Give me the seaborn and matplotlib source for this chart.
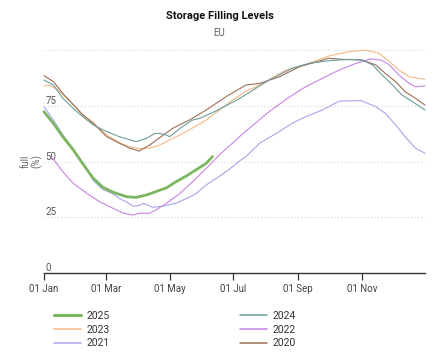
import matplotlib
matplotlib.use("Agg")
import matplotlib.pyplot as plt
from matplotlib.lines import Line2D
import seaborn as sns
import pandas as pd

# ---- data (day of year, % full) ----
days_2025 = [0, 9, 18, 28, 37, 47, 56, 66, 79, 88, 98, 107, 117, 126, 136, 145, 155, 161]
vals_2025 = [72.3, 67.1, 61.1, 55.2, 49.0, 42.5, 38.5, 36.2, 34.2, 33.9, 35.0, 36.5, 38.2, 40.9, 43.5, 46.2, 49.2, 52.2]

days_2024 = [0, 9, 18, 28, 37, 47, 60, 72, 88, 98, 106, 110, 117, 120, 130, 142, 149, 165, 187, 215, 237, 253, 272, 291, 304, 314, 323, 333, 342, 352, 364]
vals_2024 = [86.5, 84.3, 78.3, 73.8, 70.1, 66.4, 63.4, 61.1, 58.9, 60.4, 62.6, 62.6, 61.9, 61.1, 64.9, 68.6, 69.4, 72.8, 78.3, 86.5, 91.8, 94.0, 95.2, 95.8, 95.5, 93.3, 88.8, 84.3, 79.8, 76.8, 73.1]

days_2023 = [0, 6, 12, 18, 28, 37, 47, 60, 72, 82, 91, 101, 110, 117, 136, 155, 177, 193, 206, 231, 244, 253, 272, 291, 307, 320, 330, 339, 349, 364]
vals_2023 = [84.0, 84.0, 82.5, 80.0, 75.5, 71.0, 67.5, 61.8, 58.5, 56.5, 55.8, 56.0, 57.3, 58.9, 63.4, 68.6, 76.5, 81.5, 84.3, 91.0, 92.5, 94.0, 97.3, 99.2, 100.0, 98.5, 94.8, 91.0, 88.0, 86.9]

days_2022 = [6, 9, 18, 28, 41, 53, 66, 76, 85, 91, 101, 107, 117, 130, 142, 155, 168, 180, 190, 215, 234, 250, 266, 282, 298, 312, 322, 330, 339, 349, 355, 364]
vals_2022 = [52.0, 51.0, 45.4, 40.2, 35.7, 32.0, 29.0, 26.8, 26.0, 26.8, 26.8, 28.3, 31.3, 35.7, 40.9, 46.9, 53.2, 58.2, 62.5, 72.3, 78.8, 83.5, 87.3, 91.0, 94.0, 96.0, 95.5, 93.3, 88.8, 85.0, 83.5, 83.9]

days_2021 = [0, 9, 18, 28, 37, 47, 56, 66, 72, 79, 85, 91, 95, 101, 104, 110, 114, 126, 139, 145, 155, 168, 177, 186, 193, 206, 222, 237, 250, 266, 282, 303, 317, 326, 336, 345, 355, 364]
vals_2021 = [74.6, 68.5, 62.0, 55.5, 49.5, 41.5, 37.5, 35.5, 33.5, 31.8, 30.0, 30.3, 31.3, 30.0, 29.5, 29.8, 30.0, 31.3, 34.0, 35.5, 39.5, 43.5, 46.5, 50.0, 52.2, 58.2, 62.6, 67.1, 70.1, 73.1, 77.1, 77.3, 74.6, 71.6, 66.4, 61.1, 55.9, 53.7]

days_2020 = [0, 9, 18, 28, 37, 47, 60, 72, 82, 91, 101, 110, 123, 139, 155, 174, 193, 206, 225, 244, 253, 272, 285, 304, 317, 326, 336, 345, 355, 364]
vals_2020 = [88.5, 85.8, 80.5, 75.5, 70.9, 67.1, 61.1, 58.2, 56.0, 54.7, 57.4, 60.5, 64.9, 68.6, 73.1, 79.1, 84.3, 85.0, 88.0, 92.5, 93.7, 96.3, 95.8, 95.5, 93.3, 89.5, 85.8, 81.3, 78.3, 75.3]

years = ["2025", "2024", "2023", "2022", "2021", "2020"]
series_days = [days_2025, days_2024, days_2023, days_2022, days_2021, days_2020]
series_vals = [vals_2025, vals_2024, vals_2023, vals_2022, vals_2021, vals_2020]

y_ticks = [0, 25, 50, 75, 100]
y_tick_labels = ["0", "25", "50", "75", ""]
x_tick_labels = ["01 Jan", "01 Mar", "01 May", "01 Jul", "01 Sep", "01 Nov"]

title = "Storage Filling Levels"
subtitle = "EU"
y_label = "full\n(%)"

# ---- styling ----
colors = {
    "2025": "#7bb661",
    "2024": "#6b9e9c",
    "2023": "#f5b886",
    "2022": "#c684e6",
    "2021": "#a9a5ee",
    "2020": "#9c6e55",
}
widths = {"2025": 2.0, "2024": 0.8, "2023": 0.8, "2022": 0.8, "2021": 0.8, "2020": 0.8}
draw_order = ["2021", "2022", "2023", "2020", "2024", "2025"]

base = pd.Timestamp("2023-01-01")
frames = []
for yr, d, v in zip(years, series_days, series_vals):
    frames.append(pd.DataFrame({
        "date": base + pd.to_timedelta(d, unit="D"),
        "full": v,
        "year": yr,
    }))
df = pd.concat(frames, ignore_index=True)

sns.set_theme(style="white")
plt.rcParams["font.family"] = ["Roboto", "DejaVu Sans"]

fig = plt.figure(figsize=(4.42, 3.57), dpi=100)
ax = fig.add_axes([44 / 442, 1 - 273 / 357, 381 / 442, 223 / 357])

for yr in draw_order:
    sub = df[df["year"] == yr]
    sns.lineplot(data=sub, x="date", y="full", ax=ax, color=colors[yr],
                 linewidth=widths[yr], legend=False, clip_on=False)

ax.set_xlim(base, pd.Timestamp("2023-12-31"))
ax.set_ylim(0, 100)

# grid
ax.set_yticks(y_ticks)
ax.set_yticklabels(y_tick_labels, ha="left", va="bottom", color="#555555", fontsize=7)
ax.tick_params(axis="y", length=0, pad=-1)
for yv in y_ticks[1:]:
    ax.axhline(yv, color="#d4d4d4", linewidth=0.8, linestyle=(0, (1, 2)), zorder=0)

# x axis
xt = [pd.Timestamp(f"2023-{m:02d}-01") for m in (1, 3, 5, 7, 9, 11)]
ax.set_xticks(xt)
ax.set_xticklabels(x_tick_labels, fontsize=7, color="#444444")
ax.tick_params(axis="x", length=5, width=0.9, color="#333333", direction="out", pad=3, bottom=True)

for s in ["top", "right", "left"]:
    ax.spines[s].set_visible(False)
ax.spines["bottom"].set_color("#333333")
ax.spines["bottom"].set_linewidth(1.0)

ax.set_xlabel("")
ax.set_ylabel(y_label, fontsize=7, color="#666666", linespacing=1.0)
ax.yaxis.set_label_coords(-0.005, 0.5)

fig.text(219.5 / 442, 1 - 16 / 357, title, ha="center", va="center",
         fontsize=8, fontweight="bold", color="#111111")
fig.text(219.5 / 442, 1 - 33 / 357, subtitle, ha="center", va="center",
         fontsize=7, color="#666666")

legend_order = ["2025", "2023", "2021", "2024", "2022", "2020"]
handles = [Line2D([0], [0], color=colors[y], linewidth=(2.2 if y == "2025" else 1.1))
           for y in legend_order]
fig.legend(handles, legend_order, ncol=2, loc="upper left",
           bbox_to_anchor=(52 / 442, 1 - 309 / 357), frameon=False,
           fontsize=7.5, handlelength=2.6, handletextpad=0.5,
           columnspacing=12.5, labelspacing=0.35, labelcolor="#333333",
           borderaxespad=0, borderpad=0.2)

fig.savefig("out.png", dpi=100)
